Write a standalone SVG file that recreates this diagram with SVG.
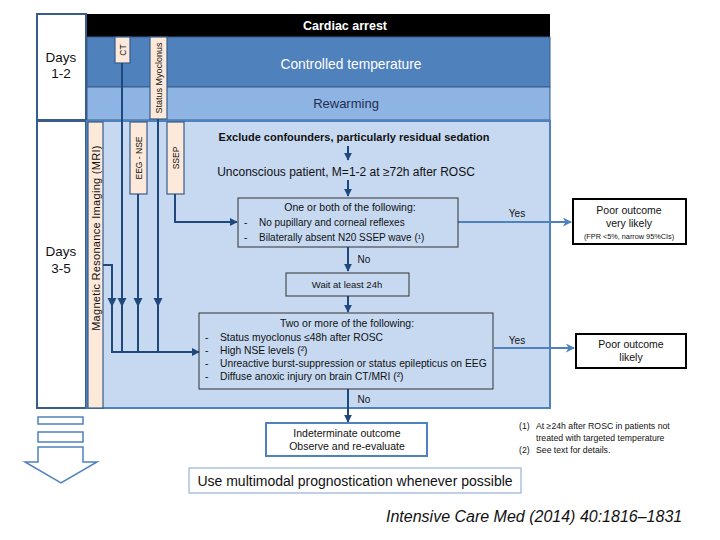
<svg xmlns="http://www.w3.org/2000/svg" width="720" height="540" viewBox="0 0 720 540">
<defs>
<style>
text{font-family:"Liberation Sans",Arial,sans-serif;fill:#111}
.days{font-size:13.5px;text-anchor:middle}
.band{stroke:#385d8a;stroke-width:1}
.peach{fill:#fde9d9;stroke:#385d8a;stroke-width:1.2}
.vlab{font-size:8.5px;text-anchor:middle;dominant-baseline:central}
.conn{fill:none;stroke:#1f497d;stroke-width:2}
.yes{fill:none;stroke:#4f81bd;stroke-width:2}
.box{fill:none;stroke:#333;stroke-width:1}
.mid{text-anchor:middle}
.t10{font-size:10px}
.c1{font-size:10px}
.c2{font-size:10.3px}
.res{fill:#fff;stroke:#000;stroke-width:2}
</style>
<marker id="ah" viewBox="0 0 10 10" refX="9" refY="5" markerWidth="8" markerHeight="8" markerUnits="userSpaceOnUse" orient="auto"><path d="M0,0 L10,5 L0,10 z" fill="#1f497d"/></marker>
<marker id="ahb" viewBox="0 0 10 10" refX="9" refY="5" markerWidth="9" markerHeight="9" markerUnits="userSpaceOnUse" orient="auto"><path d="M0,0 L10,5 L0,10 L3,5 z" fill="#4f81bd"/></marker>
<path id="tri" d="M-4.5,-9 L4.5,-9 L0,0 z" fill="#1f497d"/>
</defs>

<g id="days12"><rect x="37" y="14" width="49" height="106" fill="#fff" stroke="#385d8a" stroke-width="2"/><text class="days" x="61" y="62">Days</text><text class="days" x="61" y="78">1-2</text></g>
<g id="days35"><rect x="37" y="121" width="49" height="287" fill="#fff" stroke="#385d8a" stroke-width="2"/><text class="days" x="61" y="256">Days</text><text class="days" x="61" y="273">3-5</text></g>

<g id="cardiac-arrest"><rect x="87" y="14" width="463" height="23" fill="#000"/><text x="345" y="30" class="mid" style="font-size:12.5px;font-weight:bold;fill:#fff">Cardiac arrest</text></g>
<g id="controlled-temperature"><rect x="87" y="37" width="463" height="50" fill="#4f81bd" class="band"/><text x="351" y="69" class="mid" style="font-size:13.8px;fill:#fff">Controlled temperature</text></g>
<g id="rewarming"><rect x="87" y="87" width="463" height="33" fill="#8eb4e3" class="band"/><text x="346" y="108" class="mid" style="font-size:13px;fill:#1f2f4f">Rewarming</text></g>
<g id="main-area"><rect x="87" y="121" width="463" height="287" fill="#c6d9f1" stroke="#4f81bd" stroke-width="2"/></g>

<g id="ct"><rect x="115" y="37" width="15" height="26" class="peach"/><text class="vlab" transform="translate(122.5,50) rotate(-90)">CT</text></g>
<g id="status-myoclonus"><rect x="150" y="37" width="17" height="82" class="peach"/><text class="vlab" style="font-size:9px" transform="translate(158.5,78) rotate(-90)">Status Myoclonus</text></g>
<g id="eeg-nse"><rect x="130" y="122" width="17" height="72" class="peach"/><text class="vlab" transform="translate(138.5,158) rotate(-90)">EEG - NSE</text></g>
<g id="ssep"><rect x="167" y="122" width="17" height="72" class="peach"/><text class="vlab" transform="translate(175.5,158) rotate(-90)">SSEP</text></g>
<g id="mri"><rect x="88" y="122" width="15" height="286" class="peach"/><text class="vlab" style="font-size:11px;letter-spacing:0.3px" transform="translate(95.5,238) rotate(-90)">Magnetic Resonance Imaging (MRI)</text></g>

<g id="connectors">
<path class="conn" d="M122,63 V352"/>
<path class="conn" d="M158,119 V352"/>
<path class="conn" d="M138,194 V352"/>
<path class="conn" d="M103,265 H112 V352"/>
<path class="conn" d="M111,352 H199" marker-end="url(#ah)"/>
<path class="conn" d="M175,194 V222 H237" marker-end="url(#ah)"/>
<use href="#tri" x="112" y="307"/>
<use href="#tri" x="122" y="307"/>
<use href="#tri" x="138" y="307"/>
<use href="#tri" x="158" y="307"/>
<path class="conn" d="M348,146 V160" marker-end="url(#ah)"/>
<path class="conn" d="M348,180 V196" marker-end="url(#ah)"/>
<path class="conn" d="M348,247 V271" marker-end="url(#ah)"/>
<path class="conn" d="M348,296 V312" marker-end="url(#ah)"/>
<path class="conn" d="M348,389 V422" marker-end="url(#ah)"/>
<path class="yes" d="M458,222 H571" marker-end="url(#ahb)"/>
<path class="yes" d="M494,348 H574" marker-end="url(#ahb)"/>
<text x="517" y="217" class="mid t10">Yes</text>
<text x="517" y="344" class="mid t10">Yes</text>
<text x="364" y="263" class="mid t10">No</text>
<text x="364" y="403" class="mid t10">No</text>
</g>

<g id="exclude"><text x="354" y="141" class="mid" style="font-size:11px;font-weight:bold">Exclude confounders, particularly residual sedation</text></g>
<g id="unconscious"><text x="346" y="176" class="mid" style="font-size:12px">Unconscious patient,  M=1-2 at ≥72h after ROSC</text></g>

<g id="criteria1"><rect x="238" y="198" width="220" height="49" class="box"/>
<text x="350" y="211" class="mid" style="font-size:10.5px">One or both of the following:</text>
<text x="244" y="226" class="c1">-</text><text x="259" y="226" class="c1">No pupillary and corneal reflexes</text>
<text x="244" y="241" class="c1">-</text><text x="259" y="241" class="c1">Bilaterally absent N20 SSEP wave (¹)</text></g>

<g id="wait"><rect x="286" y="273" width="123" height="23" class="box"/><text x="347" y="288" class="mid" style="font-size:9.5px">Wait at least 24h</text></g>

<g id="criteria2"><rect x="199" y="313" width="294" height="76" class="box"/>
<text x="347" y="327" class="mid" style="font-size:10.5px">Two or more of the following:</text>
<text x="205" y="341" class="c2">-</text><text x="220" y="341" class="c2">Status myoclonus ≤48h after ROSC</text>
<text x="205" y="354" class="c2">-</text><text x="220" y="354" class="c2">High  NSE levels (²)</text>
<text x="205" y="367" class="c2">-</text><text x="220" y="367" class="c2">Unreactive burst-suppression or status epilepticus on EEG</text>
<text x="205" y="380" class="c2">-</text><text x="220" y="380" class="c2">Diffuse anoxic injury on brain CT/MRI (²)</text></g>

<g id="poor-very-likely"><rect x="573" y="199" width="113" height="45" class="res"/>
<text x="629" y="214" class="mid" style="font-size:10.5px">Poor outcome</text>
<text x="629" y="227" class="mid" style="font-size:10.5px">very likely</text>
<text x="629" y="239" class="mid" style="font-size:7.3px">(FPR &lt;5%, narrow 95%CIs)</text></g>

<g id="poor-likely"><rect x="576" y="334" width="110" height="34" class="res"/>
<text x="631" y="348" class="mid" style="font-size:10.5px">Poor outcome</text>
<text x="631" y="361" class="mid" style="font-size:10.5px">likely</text></g>

<g id="indeterminate"><rect x="266" y="423" width="161" height="33" fill="#fff" stroke="#4f81bd" stroke-width="2"/>
<text x="347" y="437" class="mid" style="font-size:10.5px">Indeterminate outcome</text>
<text x="347" y="450" class="mid" style="font-size:10.5px">Observe and re-evaluate</text></g>

<g id="multimodal"><rect x="189" y="468" width="332" height="25" fill="#fff" stroke="#95b3d7" stroke-width="1.2"/>
<text x="355" y="486" class="mid" style="font-size:14px">Use multimodal prognostication whenever possible</text></g>

<g id="footnotes" style="font-size:8.7px">
<text x="519" y="429">(1)</text><text x="536" y="429">At ≥24h after ROSC in patients not</text>
<text x="536" y="441">treated with targeted temperature</text>
<text x="519" y="453">(2)</text><text x="536" y="453">See text for details.</text></g>

<g id="timeline-arrow" fill="#fff" stroke="#4f81bd" stroke-width="1.5">
<rect x="38" y="417" width="45" height="7"/>
<rect x="38" y="432" width="45" height="10"/>
<path d="M38,447 H83 V462 H97 L61,483 L25,462 H38 Z"/></g>

<g id="citation"><text x="386" y="522" style="font-size:16px;font-style:italic">Intensive Care Med (2014) 40:1816–1831</text></g>
</svg>
